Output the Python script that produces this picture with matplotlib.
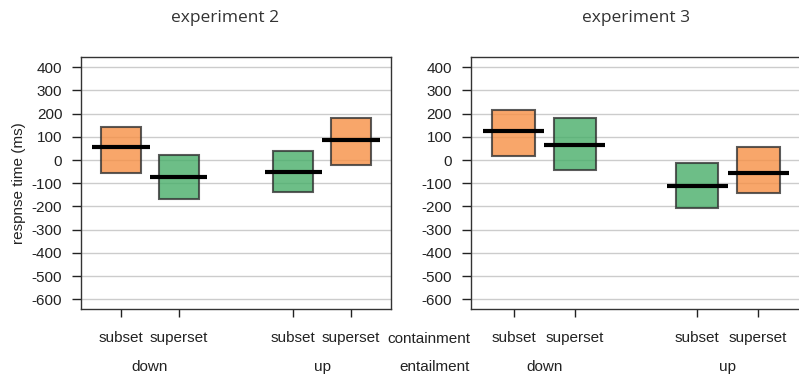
import numpy as np
import matplotlib.pyplot as plt

# condition order within each experiment: down/subset, down/superset, up/subset, up/superset
positions = [1, 2, 4, 5]
containment = ["subset", "superset", "subset", "superset"]
entailment = ["down", "up"]

exp2_mean = [55, -74, -50, 87]
exp2_low = [-54, -169, -136, -21]
exp2_high = [143, 21, 38, 179]

exp3_mean = [126, 64, -114, -58]
exp3_low = [18, -41, -208, -143]
exp3_high = [216, 182, -11, 54]

orange = "#F79045"
green = "#48AE69"
bar_colors = [orange, green, green, orange]

yticks = list(range(-600, 500, 100))

plt.rcParams["font.family"] = ["Liberation Sans", "DejaVu Sans"]
plt.rcParams["font.size"] = 11

fig = plt.figure(figsize=(7.99, 3.75), dpi=100)
ax2 = fig.add_axes([81 / 799, 1 - 309 / 375, 310 / 799, 252 / 375])
ax3 = fig.add_axes([471 / 799, 1 - 309 / 375, 330 / 799, 252 / 375])


def draw_panel(ax, means, lows, highs):
    x = np.array(positions, dtype=float)
    lows = np.array(lows)
    highs = np.array(highs)
    ax.bar(x, highs - lows, bottom=lows, width=0.7, color=bar_colors,
           alpha=0.8, edgecolor="#333333", linewidth=1.5, zorder=2)
    ax.hlines(means, x - 0.5, x + 0.5, color="black", linewidth=3, zorder=3)

    ax.set_xlim(0.3, 5.7)
    ax.set_ylim(-642, 444)
    ax.set_yticks(yticks)
    ax.set_yticklabels([str(v) for v in yticks])
    ax.yaxis.grid(True, color="#cccccc", linewidth=1, zorder=0)
    ax.set_axisbelow(True)
    ax.set_xticks(positions)
    ax.set_xticklabels(containment)
    ax.tick_params(axis="y", direction="out", length=6.5, width=1,
                   pad=7, colors="#222222", labelsize=11)
    ax.tick_params(axis="x", direction="out", length=6, width=1,
                   pad=10, colors="#222222", labelsize=11)
    for s in ax.spines.values():
        s.set_color("#333333")
        s.set_linewidth(1)

    # entailment direction under each pair of conditions
    for i, lab in enumerate(entailment):
        xc = (positions[2 * i] + positions[2 * i + 1]) / 2
        ax.text(xc, -0.23, lab, transform=ax.get_xaxis_transform(),
                ha="center", va="center", fontsize=11, color="#222222")


draw_panel(ax2, exp2_mean, exp2_low, exp2_high)
draw_panel(ax3, exp3_mean, exp3_low, exp3_high)
ax3.spines["right"].set_visible(False)

ax2.set_ylabel("respnse time (ms)", fontsize=11, color="#222222", labelpad=4)

fig.text(470 / 799, 1 - 339 / 375, "containment", ha="right", va="center",
         fontsize=11, color="#222222")
fig.text(470 / 799, 1 - 367 / 375, "entailment", ha="right", va="center",
         fontsize=11, color="#222222")

fig.text(225 / 799, 1 - 18 / 375, "experiment 2", ha="center", va="center",
         fontsize=12.5, color="#333333", family=["Open Sans", "DejaVu Sans"])
fig.text(636 / 799, 1 - 18 / 375, "experiment 3", ha="center", va="center",
         fontsize=12.5, color="#333333", family=["Open Sans", "DejaVu Sans"])

fig.savefig("out.png", dpi=100)
